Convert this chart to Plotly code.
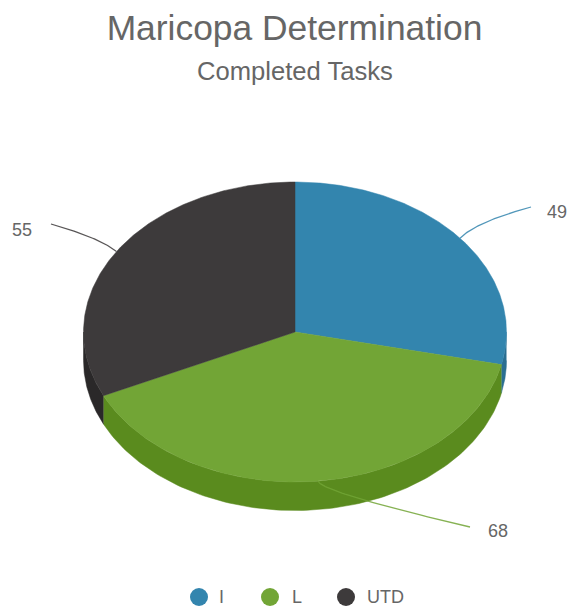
import numpy as np
import plotly.graph_objects as go

# Data
categories = ["I", "L", "UTD"]
values = [49, 68, 55]
title_text = "Maricopa Determination"
subtitle_text = "Completed Tasks"

# Styles
top_colors = ["#3385ae", "#72a536", "#3d3a3b"]
side_colors = ["#2a6e91", "#5a8b1e", "#2a2829"]
text_color = "#666666"
font = "Liberation Sans, Arial, sans-serif"

# Layout of the tilted pie, in the axis units of the page
W, H = 568, 606
cx, cy, rx, ry, depth = 295, 332, 211.5, 150, 28.5
leader_ctrl = [(476, 222), (321, 492), (100, 238)]
leader_end = [(531, 207), (470, 527), (51, 224)]
label_pos = [(557, 213), (498, 532), (22, 231)]
legend_marker_x = [199, 270, 346]
legend_text_x = [219, 292, 367]
legend_y = 597
title_center_x = 294.5

fractions = np.array(values, dtype=float) / sum(values)
edges = np.concatenate([[0], np.cumsum(fractions)]) * 360


def ell(theta_deg, dy=0.0):
    t = np.radians(theta_deg)
    return cx + rx * np.sin(t), cy - ry * np.cos(t) + dy


fig = go.Figure()

# Side walls (only the front half, 90-270 degrees, is visible)
for i in range(len(values)):
    a, b = max(edges[i], 90), min(edges[i + 1], 270)
    if b <= a:
        continue
    th = np.linspace(a, b, 120)
    x1, y1 = ell(th)
    x2, y2 = ell(th[::-1], depth)
    fig.add_trace(go.Scatter(
        x=np.concatenate([x1, x2]), y=np.concatenate([y1, y2]),
        fill="toself", fillcolor=side_colors[i], mode="lines",
        line=dict(color=side_colors[i], width=0.5),
        showlegend=False, hoverinfo="skip"))

# Top faces
for i in range(len(values)):
    th = np.linspace(edges[i], edges[i + 1], 240)
    x1, y1 = ell(th)
    fig.add_trace(go.Scatter(
        x=np.concatenate([[cx], x1, [cx]]), y=np.concatenate([[cy], y1, [cy]]),
        fill="toself", fillcolor=top_colors[i], mode="lines",
        line=dict(color=top_colors[i], width=0.5),
        name=categories[i], text=[f"{categories[i]}: {values[i]}"] * 242,
        hoverinfo="text", showlegend=False))

# Leader lines and value labels
for i in range(len(values)):
    mid = (edges[i] + edges[i + 1]) / 2
    ax, ay = ell(mid)
    c, e = leader_ctrl[i], leader_end[i]
    s = np.linspace(0, 1, 40)
    fig.add_trace(go.Scatter(
        x=(1 - s) ** 2 * ax + 2 * s * (1 - s) * c[0] + s ** 2 * e[0],
        y=(1 - s) ** 2 * ay + 2 * s * (1 - s) * c[1] + s ** 2 * e[1],
        mode="lines", line=dict(color=top_colors[i], width=1.3),
        opacity=0.85, showlegend=False, hoverinfo="skip"))
    fig.add_trace(go.Scatter(
        x=[label_pos[i][0]], y=[label_pos[i][1]], mode="text",
        text=[str(values[i])], textposition="middle center",
        textfont=dict(family=font, size=18, color=text_color),
        showlegend=False, hoverinfo="skip"))

# Legend row
for i in range(len(values)):
    fig.add_trace(go.Scatter(
        x=[legend_marker_x[i]], y=[legend_y], mode="markers", name=categories[i],
        marker=dict(color=top_colors[i], size=18), showlegend=False, hoverinfo="skip"))
    fig.add_trace(go.Scatter(
        x=[legend_text_x[i]], y=[legend_y + 1], mode="text", text=[categories[i]],
        textposition="middle right",
        textfont=dict(family=font, size=18, color=text_color),
        showlegend=False, hoverinfo="skip"))

fig.update_layout(
    width=W, height=H, margin=dict(l=0, r=0, t=0, b=0),
    paper_bgcolor="white", plot_bgcolor="white",
    xaxis=dict(range=[0, W], visible=False, fixedrange=True),
    yaxis=dict(range=[H, 0], visible=False, fixedrange=True),
    title=dict(text=title_text, x=title_center_x / W, xanchor="center", y=1 - 28 / H, yanchor="middle",
               font=dict(family=font, size=35.4, color=text_color)),
    annotations=[dict(text=subtitle_text, xref="paper", yref="paper", x=title_center_x / W, y=1 - 71 / H,
                      xanchor="center", yanchor="middle", showarrow=False,
                      font=dict(family=font, size=25.6, color=text_color))],
    showlegend=False,
)

fig.write_html("out.html", config=dict(displayModeBar=False),
               post_script="document.body.style.margin='0';")
